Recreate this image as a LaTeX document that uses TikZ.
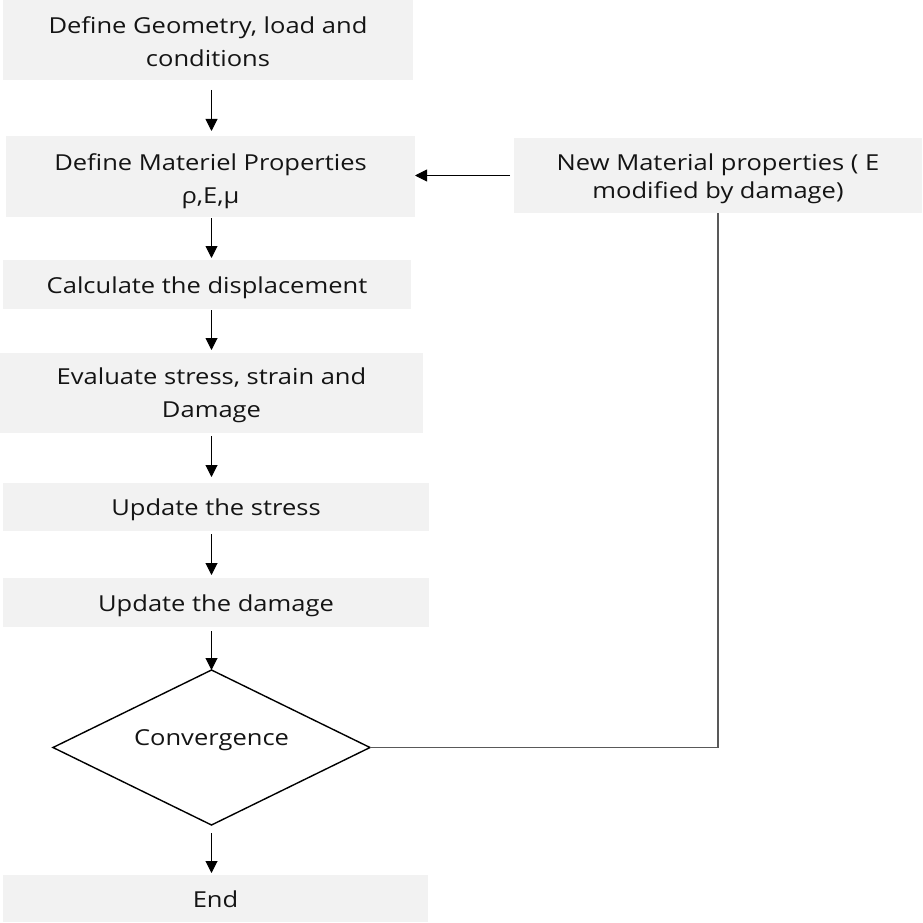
\documentclass[tikz,border=0pt]{standalone}
\usepackage{fontspec}
\setmainfont{Open Sans}[FakeStretch=1.16]
\usetikzlibrary{shapes.geometric,arrows.meta}
\definecolor{boxfill}{HTML}{F2F2F2}
\definecolor{txt}{HTML}{141414}
\begin{document}
\begin{tikzpicture}[x=1pt,y=1pt,
  box/.style 2 args={fill=boxfill, draw=none, inner sep=0pt, outer sep=0pt,
    minimum width=#1, minimum height=#2, align=center, text=txt,
    text height=17pt, text depth=0pt,
    font=\fontsize{22}{33}\selectfont},
  multi/.style={text=txt, inner sep=0pt, align=center, font=\fontsize{22}{33}\selectfont},
  arr/.style={draw=black, line width=1pt, -{Triangle[width=12pt,length=12pt]}},
  fb/.style={draw=black!65, line width=1.2pt},
  decision/.style={diamond, draw=black, line width=1.4pt, inner sep=0pt, outer sep=0pt,
    minimum width=317pt, minimum height=155pt},
  lbl/.style={text=txt, font=\fontsize{22}{33}\selectfont, inner sep=0pt,
    text height=17pt, text depth=0pt}
]
\useasboundingbox (0,0) rectangle (922,-923);

\node[box={410pt}{80pt}] (geom) at (208,-40) {};
\node[multi] (geomt) at ([yshift=-2pt]geom.center) {Define Geometry, load and\\conditions};
\node[box={409pt}{81pt}] (mat) at (210.5,-176.5) {};
\node[multi] (matt) at ([yshift=-5pt]mat.center) {Define Materiel Properties\\ρ,E,μ};
\node[box={408pt}{49pt}] (disp) at (207,-284.5) {Calculate the displacement};
\node[box={423pt}{80pt}] (eval) at (211.5,-393) {};
\node[multi] (evalt) at ([yshift=-2pt]eval.center) {Evaluate stress, strain and\\Damage};
\node[box={426pt}{48pt}] (ustress) at (216,-507) {Update the stress};
\node[box={426pt}{49pt}] (udam) at (216,-602.5) {Update the damage};
\node[decision] (conv) at (211.5,-747.5) {};
\node[lbl] (convt) at ([yshift=11pt]conv.center) {Convergence};
\node[box={425pt}{47pt}] (end) at (215.5,-898.5) {End};
\node[box={408pt}{75pt}] (newmat) at (718,-175.5) {};
\node[multi, font=\fontsize{22}{28}\selectfont] (newmatt) at ([yshift=-3pt]newmat.center) {New Material properties ( E\\modified by damage)};

\draw[arr, shorten <=10pt, shorten >=5pt] (geom.south -| conv.north) -- (mat.north -| conv.north);
\draw[arr, shorten <=1pt, shorten >=2pt] (mat.south -| conv.north) -- (disp.north -| conv.north);
\draw[arr, shorten <=1pt, shorten >=3pt] (disp.south -| conv.north) -- (eval.north -| conv.north);
\draw[arr, shorten <=3pt, shorten >=6pt] (eval.south -| conv.north) -- (ustress.north -| conv.north);
\draw[arr, shorten <=3pt, shorten >=3pt] (ustress.south -| conv.north) -- (udam.north -| conv.north);
\draw[arr, shorten <=4pt] (udam.south -| conv.north) -- (conv.north);
\draw[arr, shorten <=8pt, shorten >=2pt] (conv.south) -- (end.north -| conv.south);
\draw[arr, shorten <=4pt] (newmat.west) -- (mat.east |- newmat.west);
\draw[fb] (conv.east) -| (newmat.south);
\end{tikzpicture}
\end{document}
